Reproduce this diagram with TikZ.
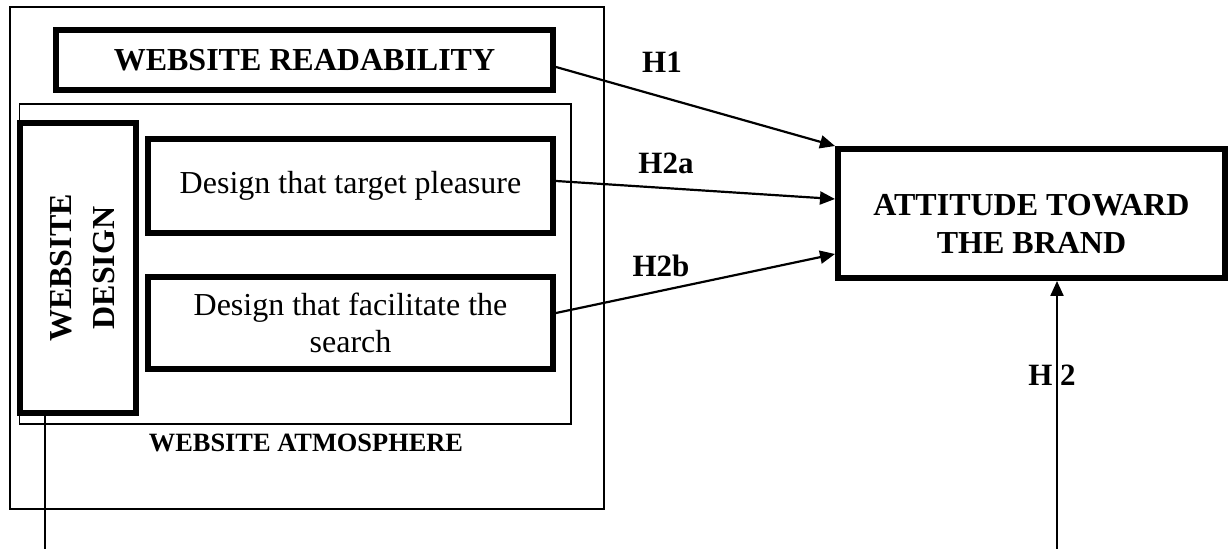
\documentclass[tikz,border=0pt]{standalone}
\usepackage{fontspec}
\setmainfont{Liberation Serif}
\usetikzlibrary{arrows.meta}
\pgfdeclarelayer{bg}
\pgfsetlayers{bg,main}
\tikzstyle{heavy}=[draw=black, shape=rectangle, line width=3pt, inner sep=0pt, align=center, font=\fontsize{16}{18.5}\selectfont]
\tikzstyle{frame}=[draw=black, shape=rectangle, line width=0.75pt, inner sep=0pt]
\tikzstyle{hyp}=[-{Triangle[length=7.5pt, width=6.5pt]}, line width=1.1pt]
\tikzstyle{hlabel}=[anchor=base, inner sep=0pt, font=\bfseries\fontsize{15.5}{18}\selectfont]

\begin{document}
\begin{tikzpicture}[x=0.5pt, y=-0.5pt]
    \useasboundingbox (0, 0) rectangle (1228, 549);

    \node [frame, minimum width=297pt, minimum height=251pt] (outer) at (307, 258) {};
    \node [frame, minimum width=275.75pt, minimum height=160pt] (atmo) at (295.25, 264) {};
    \node [anchor=base, inner sep=0pt, font=\bfseries\fontsize{13.2}{15}\selectfont] (atmolabel) at (306, 451.5) {WEBSITE ATMOSPHERE};

    \node [heavy, minimum width=248.5pt, minimum height=30pt, font=\bfseries\fontsize{16}{18.5}\selectfont] (read) at (304.5, 60) {WEBSITE READABILITY};
    \node [heavy, rotate=90, minimum width=145pt, minimum height=58pt, font=\bfseries\fontsize{16}{21.5}\selectfont] (design) at (78, 268) {\rule{0pt}{15pt}WEBSITE\\DESIGN};
    \node [heavy, minimum width=202.5pt, minimum height=47pt] (fun) at (350.5, 186) {Design that target pleasure};
    \node [heavy, minimum width=202.5pt, minimum height=46pt] (search) at (350.5, 323) {Design that facilitate the\\search};
    \node [heavy, minimum width=193.5pt, minimum height=64.5pt, font=\bfseries\fontsize{16}{19}\selectfont] (att) at (1031.5, 213.5) {\rule{0pt}{21pt}ATTITUDE TOWARD\\THE BRAND};

    \node [hlabel] (h1) at (662, 72.5) {H1};
    \node [hlabel] (h2a) at (666, 174) {H2a};
    \node [hlabel] (h2b) at (661, 276.5) {H2b};
    \node [hlabel] (h3) at (1052, 385.5) {H 2};

    \coordinate (afoot) at (1057, 549);
    \coordinate (dfoot) at (45, 549);

    \begin{pgfonlayer}{bg}
        \draw [hyp] ([yshift=-3.5pt]read.east) -- (att.north west);
        \draw [hyp] ([yshift=2.5pt]fun.east) -- ([yshift=7.25pt]att.west);
        \draw [hyp] ([yshift=5pt]search.east) -- ([yshift=-20.25pt]att.west);
        \draw [hyp] (afoot) -- (afoot |- att.south);
        \draw [line width=0.75pt] (dfoot |- design.west) -- (dfoot);
    \end{pgfonlayer}
\end{tikzpicture}
\end{document}
